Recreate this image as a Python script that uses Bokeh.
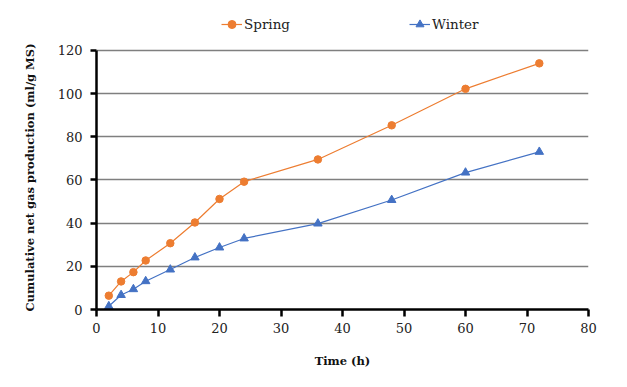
from bokeh.plotting import figure
from bokeh.models import Legend, LegendItem, Range1d, FixedTicker, Title
from bokeh.embed import file_html
from bokeh.resources import INLINE

time_h = [2, 4, 6, 8, 12, 16, 20, 24, 36, 48, 60, 72]
spring = [6.4, 13.0, 17.3, 22.7, 30.7, 40.3, 51.2, 59.2, 69.5, 85.3, 102.2, 114.0]
winter = [1.5, 6.7, 9.4, 13.1, 18.5, 24.1, 28.7, 32.9, 39.8, 50.7, 63.4, 73.0]
x_ticks = [0, 10, 20, 30, 40, 50, 60, 70, 80]
y_ticks = [0, 20, 40, 60, 80, 100, 120]

FONT = "DejaVu Serif"
ORANGE = "#ED7D31"
BLUE = "#4472C4"

# frame extends above 120 to hold the legend; axis line is bounded to 0..120
p = figure(width=620, height=380, output_backend="svg", toolbar_location=None,
           x_range=Range1d(0, 80), y_range=Range1d(0, 139.4),
           min_border_left=96, min_border_right=32, min_border_top=8, min_border_bottom=71)
p.outline_line_color = None
p.background_fill_color = "white"
p.border_fill_color = "white"

p.xgrid.visible = False
p.ygrid.grid_line_color = "#7f7f7f"
p.ygrid.grid_line_width = 1.5

for ax in (p.xaxis[0], p.yaxis[0]):
    ax.axis_line_color = "black"
    ax.axis_line_width = 2.5
    ax.major_tick_line_color = "black"
    ax.major_tick_line_width = 2.5
    ax.major_tick_in = 0
    ax.minor_tick_line_color = None
    ax.major_label_text_font = FONT
    ax.major_label_text_font_size = "13px"
    ax.major_label_text_color = "#222222"
    ax.axis_label_text_font = FONT
    ax.axis_label_text_font_style = "bold"
    ax.axis_label_text_font_size = "11.5px"
    ax.axis_label_text_color = "#111111"

p.xaxis.ticker = FixedTicker(ticks=x_ticks)
p.yaxis.ticker = FixedTicker(ticks=y_ticks)
p.yaxis.bounds = (0, 120)
p.xaxis.major_tick_out = 7
p.yaxis.major_tick_out = 6
p.xaxis.major_label_standoff = 6
p.yaxis.major_label_standoff = 8
p.xaxis.axis_label = "Time (h)"
p.xaxis.axis_label_standoff = 18

# y-axis title placed as a side title so it is centred on the 0..120 span
ytitle = Title(text="Cumulative net gas production (ml/g MS)", align="left",
               vertical_align="bottom", offset=-2, standoff=36,
               text_font=FONT, text_font_style="bold", text_font_size="11.5px",
               text_color="#111111")
p.add_layout(ytitle, "left")

sl = p.line(time_h, spring, line_color=ORANGE, line_width=1.2)
sm = p.scatter(time_h, spring, marker="circle", size=7.5, fill_color=ORANGE, line_color=ORANGE)
wl = p.line(time_h, winter, line_color=BLUE, line_width=1.2)
wm = p.scatter(time_h, winter, marker="triangle", size=8.5, fill_color=BLUE, line_color=BLUE)

legend = Legend(items=[LegendItem(label="Spring", renderers=[sl, sm]),
                       LegendItem(label="Winter", renderers=[wl, wm])],
                orientation="horizontal", location=(125, 275),
                padding=0, margin=0, spacing=119, label_standoff=2,
                glyph_width=21, glyph_height=20,
                border_line_color=None, background_fill_alpha=0,
                label_text_font=FONT, label_text_font_size="13.5px",
                label_text_color="#222222")
p.add_layout(legend)

open("out.html", "w").write(file_html(p, INLINE))
